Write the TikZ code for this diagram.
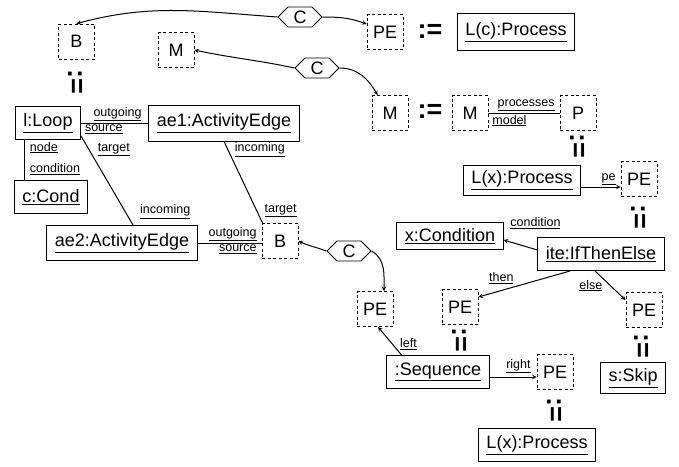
\documentclass[tikz,border=0pt]{standalone}
\usepackage{fontspec}
\setmainfont{Liberation Sans}
\usetikzlibrary{shapes.symbols, arrows}
\newcommand\objfont{\fontsize{18}{21}\selectfont}
\newcommand\labfont{\fontsize{12.5}{14}\selectfont}
\tikzstyle{obj} = [rectangle, draw=black, line width=1pt, minimum height=33pt, inner xsep=8pt, font=\objfont]
\tikzstyle{varbox} = [rectangle, draw=black, line width=0.8pt, dash pattern=on 3pt off 2.5pt, minimum width=36pt, minimum height=35pt, inner sep=1pt, font=\objfont]
\tikzstyle{ctx} = [signal, signal to=west and east, draw=black, line width=0.8pt, minimum width=44pt, minimum height=20pt, inner sep=0pt, font=\objfont]
\tikzstyle{defeq} = [inner sep=0pt, font=\bfseries\fontsize{27}{27}\selectfont]
\tikzstyle{link} = [line width=1pt]
\tikzstyle{arrow} = [line width=1pt,->,>=stealth]
\tikzstyle{lab} = [inner sep=1.5pt, font=\labfont]

\begin{document}
\begin{tikzpicture}
    \useasboundingbox (0,0) rectangle (679pt,-466pt);
    \begin{scope}[x=1pt,y=1pt]
        % top row
        \node (B1) [varbox] at (76.5,-41.5) {B};
        \node (eq1) [defeq, rotate=-90] at (76,-82) {:=};
        \node (M1) [varbox] at (176,-50) {M};
        \node (C1) [ctx] at (300,-17) {C};
        \node (PE1) [varbox] at (385,-32) {PE};
        \node (eq2) [defeq] at (430,-31) {:=};
        \node (lcproc) [obj, minimum height=37pt] at (516,-32) {\underline{L(c):Process}};

        \node (C2) [ctx] at (317,-68) {C};
        \node (M2) [varbox] at (390,-113) {M};
        \node (eq3) [defeq] at (430,-111) {:=};
        \node (M3) [varbox] at (470,-113) {M};
        \node (P) [varbox] at (578,-113) {P};
        \node (eq4) [defeq, rotate=-90] at (578,-146) {:=};
        \node (lxproc) [obj, minimum height=30pt] at (522,-180) {\underline{L(x):Process}};
        \node (PE2) [varbox] at (639,-179) {PE};
        \node (eq5) [defeq, rotate=-90] at (639,-217) {:=};

        % if-then-else
        \node (ite) [obj] at (601,-254) {\underline{ite:IfThenElse}};
        \node (xcond) [obj, minimum height=27pt] at (450,-236) {\underline{x:Condition}};
        \node (PEthen) [varbox] at (460,-307) {PE};
        \node (eq6) [defeq, rotate=-90] at (460,-340) {:=};
        \node (PEelse) [varbox] at (644,-310) {PE};
        \node (eq7) [defeq, rotate=-90] at (642,-346) {:=};
        \node (skip) [obj, minimum height=31pt] at (633,-378) {\underline{s:Skip}};

        % sequence
        \node (seq) [obj] at (438,-372) {\underline{:Sequence}};
        \node (PEleft) [varbox] at (375,-309) {PE};
        \node (PEright) [varbox] at (555,-372) {PE};
        \node (eq8) [defeq, rotate=-90] at (555,-410) {:=};
        \node (lxproc2) [obj] at (537,-445) {\underline{L(x):Process}};

        % loop
        \node (loop) [obj] at (48,-123) {\underline{l:Loop}};
        \node (ae1) [obj, minimum height=36pt] at (224,-123) {\underline{ae1:ActivityEdge}};
        \node (cond) [obj] at (51,-197) {\underline{c:Cond}};
        \node (ae2) [obj, minimum height=35pt] at (122,-243) {\underline{ae2:ActivityEdge}};
        \node (B2) [varbox] at (280,-241) {B};
        \node (C3) [ctx] at (349,-251) {C};

        \draw[arrow] (C1.west) to[out=176,in=15] (B1.north);
        \draw[arrow] (C1.east) to[out=0,in=160] ([yshift=8pt]PE1.west);
        \draw[arrow] (C2.west) to[out=168,in=-12] (M1.east);
        \draw[arrow] (C2.east) to[out=0,in=120] ([xshift=6pt]M2.north west);

        \draw[link] (M3.east) -- (P.west)
            node[lab, pos=1, anchor=south east, xshift=-3pt] {\underline{processes}}
            node[lab, pos=0, anchor=north west, xshift=2pt] {\underline{model}};
        \draw[arrow] ([yshift=-7pt]lxproc.east) -- ([yshift=-7pt]lxproc.east -| PE2.west)
            node[lab, pos=1, anchor=south east, xshift=-3pt] {\underline{pe}};

        \draw[link] (loop.east) -- (ae1.west)
            node[lab, pos=1, anchor=south east, xshift=-5pt] {\underline{outgoing}}
            node[lab, pos=0, anchor=north west, xshift=2pt] {\underline{source}};
        \draw[link] ([xshift=10pt]loop.south west) -- ([xshift=10pt]loop.south west |- cond.north)
            node[lab, pos=0, anchor=north west, xshift=3pt] {\underline{node}}
            node[lab, pos=1, anchor=south west, xshift=3pt, yshift=3pt] {\underline{condition}};
        \draw[link] ([yshift=4pt]loop.south east) -- ([xshift=11pt]ae2.north)
            node[lab, pos=0.15, right=7pt] {\underline{target}}
            node[lab, pos=0.85, right=13pt] {\underline{incoming}};
        \draw[link] (ae1.south) -- ([xshift=1pt]B2.north west)
            node[lab, pos=0.1, right=5pt] {\underline{incoming}}
            node[lab, pos=1, anchor=south west, yshift=4pt] {\underline{target}};
        \draw[link] (ae2.east) -- (ae2.east -| B2.west)
            node[lab, pos=1, anchor=south east, xshift=-3pt] {\underline{outgoing}}
            node[lab, pos=1, anchor=north east, xshift=-3pt] {\underline{source}};

        \draw[arrow] (C3.west) to[out=160,in=-25] (B2.east);
        \draw[arrow] (C3.east) to[out=-30,in=90] ([xshift=9pt]PEleft.north);

        \draw[arrow] ([yshift=4pt]ite.west) -- ([yshift=-4pt]xcond.east)
            node[lab, pos=0, anchor=south, xshift=-2pt, yshift=19pt] {\underline{condition}};
        \draw[arrow] ([xshift=-31pt]ite.south) -- ([yshift=10pt]PEthen.east)
            node[lab, pos=0.75, above=5pt] {\underline{then}};
        \draw[arrow] ([xshift=-6pt]ite.south) -- ([yshift=-8pt]PEelse.north west)
            node[lab, pos=0.5, left=6pt] {\underline{else}};

        \draw[arrow] ([xshift=15pt]seq.north west) -- ([xshift=3pt]PEleft.south)
            node[lab, pos=0.4, right=6pt] {\underline{left}};
        \draw[arrow] ([yshift=-5pt]seq.east) -- ([yshift=-5pt]seq.east -| PEright.west)
            node[lab, pos=1, anchor=south east, xshift=-4pt, yshift=2pt] {\underline{right}};
    \end{scope}
\end{tikzpicture}
\end{document}
